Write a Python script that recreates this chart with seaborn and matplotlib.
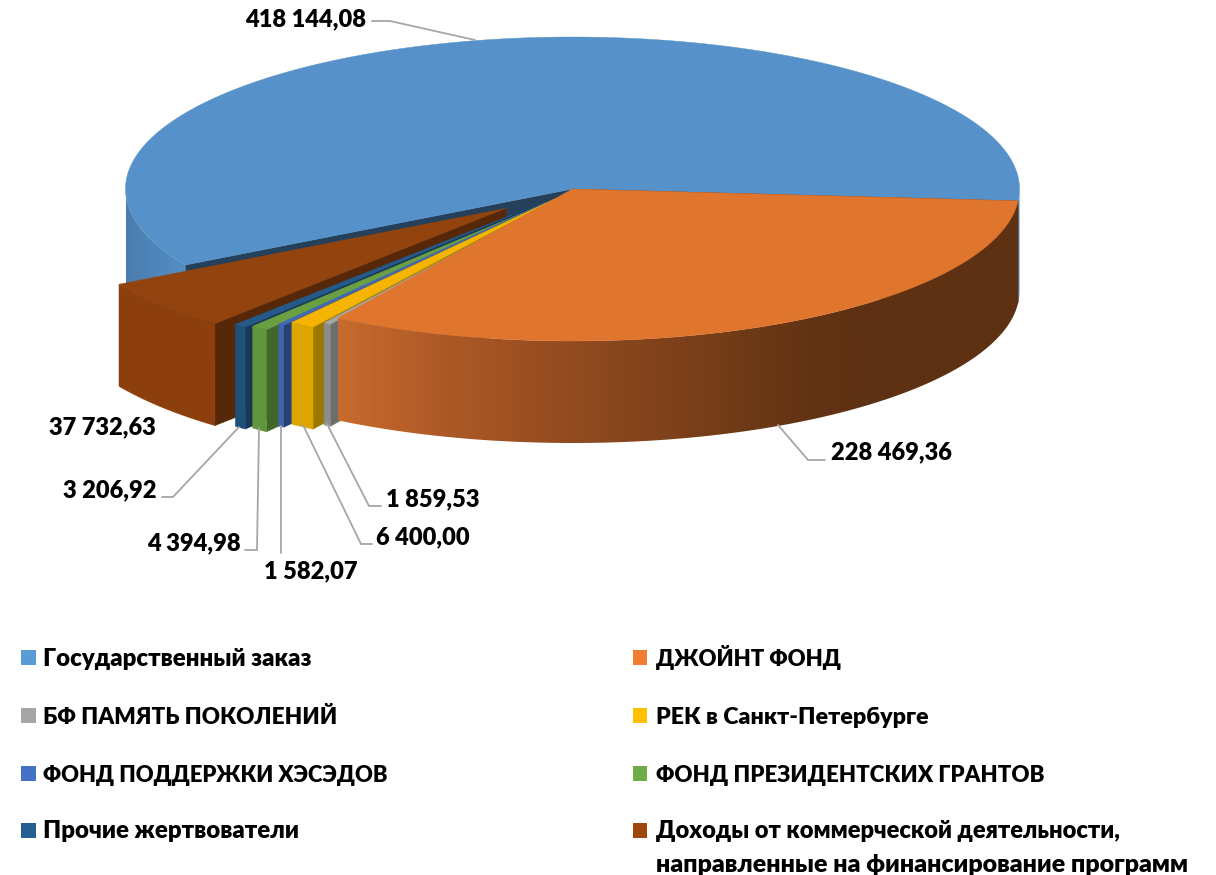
import numpy as np
import matplotlib
matplotlib.use("Agg")
import matplotlib.pyplot as plt
from matplotlib.patches import Polygon
import seaborn as sns

# data
categories = ["Государственный заказ", "ДЖОЙНТ ФОНД", "БФ ПАМЯТЬ ПОКОЛЕНИЙ", "РЕК в Санкт-Петербурге",
              "ФОНД ПОДДЕРЖКИ ХЭСЭДОВ", "ФОНД ПРЕЗИДЕНТСКИХ ГРАНТОВ", "Прочие жертвователи",
              "Доходы от коммерческой деятельности,\nнаправленные на финансирование программ"]
values = [418144.08, 228469.36, 1859.53, 6400.00, 1582.07, 4394.98, 3206.92, 37732.63]

# colours
legend_colors = ["#5b9bd5", "#ed7d31", "#a5a5a5", "#ffc000", "#4472c4", "#70ad47", "#255e91", "#9e480e"]
top_colors = ["#5692c9", "#e0752e", "#a5a5a5", "#f5b400", "#4169b4", "#6aa042", "#235a8a", "#93430d"]
cut_colors = ["#24405a", "#5e3113", "#6e6e6e", "#9d7800", "#284173", "#43672a", "#163755", "#57270a"]
wall_colors = [["#4b7daf", "#5490c6"], ["#c86b2e", "#ac5826", "#8c481e", "#643414", "#5e3113"],
               ["#8c8c8c"], ["#dca500"], ["#3e64aa"], ["#61963c"], ["#1f507a"], ["#8c3e0c"]]
wall_stops = [[125, 190], [337, 450, 600, 800, 860], [0], [0], [0], [0], [0], [0]]

# pie geometry in pixels
cx, cy, rx, ry = 572.5, 189, 447, 152
depth = 102
first_angle = 150.0
explode_x = [0, 0, -7.3, -18.3, -26.4, -38.5, -46, -66.4]
explode_y = [0, 0, 6, 10.2, 13.2, 19, 20, 19.3]
paint_order = [0, 7, 6, 5, 4, 3, 2, 1]

# value labels: left edge, baseline
label_x = [245, 831, 386, 376, 264, 147, 63, 49]
label_y = [26, 459.5, 506.5, 544.5, 578.5, 550.5, 497.5, 434]
leaders = [[(372, 21), (390, 21), (475, 40)],
           [(778, 425), (808, 460), (825, 460)],
           [(327, 424), (369, 506), (381, 506)],
           [(303, 425), (361, 544), (372, 544)],
           [(281, 426), (281, 553)],
           [(259, 428), (257, 550), (245, 550)],
           [(239, 427), (173, 497), (162, 497)]]

# legend layout
legend_x = [28.5, 640, 28.5, 640, 28.5, 640, 28.5, 640]
legend_y = [657.5, 657.5, 715.5, 715.5, 773.5, 773.5, 830.5, 830.5]
legend_text_x = [43, 656, 43, 656, 43, 656, 43, 656]
legend_base = [665.5, 665.5, 723.5, 723.5, 781.5, 781.5, 838.5, 838.5]
# caps are narrower in the original face, so sizes go per line
legend_sizes = [[17.3], [15.9], [16.2], [16.75], [15.8], [16.0], [17.3], [17.0, 18.0]]

sns.set_theme(style="white")
plt.rcParams['font.family'] = ['Lato', 'Open Sans', 'DejaVu Sans']
FONT_VALUE = 17.0
WEIGHT = "heavy"

zorder = [1]


def next_z():
    zorder[0] += 1
    return zorder[0]


def rim(t):
    return cx + rx * np.cos(np.radians(t)), cy + ry * np.sin(np.radians(t))


def draw_wall(ax, i, ts, dx, dy):
    xs, ys = rim(ts)
    xs = xs + dx
    ys = ys + dy
    px = np.r_[xs, xs[::-1]]
    py = np.r_[ys, ys[::-1] + depth]
    if len(wall_colors[i]) == 1:
        ax.fill(px, py, color=wall_colors[i][0], lw=0.3, zorder=next_z())
        return
    # gradient walls: image clipped to the wall outline
    rgb = np.array([matplotlib.colors.to_rgb(c) for c in wall_colors[i]])
    gx = np.linspace(px.min(), px.max(), 400)
    grad = np.stack([np.interp(gx, wall_stops[i], rgb[:, k]) for k in range(3)], axis=1)[np.newaxis, :, :]
    z = next_z()
    im = ax.imshow(grad, extent=(px.min(), px.max(), py.max(), py.min()), aspect="auto",
                   interpolation="bilinear", zorder=z)
    poly = Polygon(np.c_[px, py], closed=True, transform=ax.transData)
    im.set_clip_path(poly)


def draw_slice(ax, i, a0, a1):
    dx, dy = explode_x[i], explode_y[i]
    # cut face on the clockwise start of the slice
    x0, y0 = rim(a0)
    ax.fill([cx + dx, x0 + dx, x0 + dx, cx + dx],
            [cy + dy, y0 + dy, y0 + dy + depth, cy + dy + depth],
            color=cut_colors[i], lw=0.3, zorder=next_z())
    # outer wall, only the part facing the viewer
    ts = np.linspace(a0, a1, max(3, int((a1 - a0) * 4)))
    front = np.sin(np.radians(ts)) >= 0
    run = []
    for t, f in zip(ts, front):
        if f:
            run.append(t)
        elif len(run) > 1:
            draw_wall(ax, i, np.array(run), dx, dy)
            run = []
        else:
            run = []
    if len(run) > 1:
        draw_wall(ax, i, np.array(run), dx, dy)
    # top
    xs, ys = rim(ts)
    ax.fill(np.r_[cx, xs] + dx, np.r_[cy, ys] + dy, color=top_colors[i], lw=0.3, zorder=next_z())


fig = plt.figure(figsize=(12.16, 8.75), dpi=100)
ax = fig.add_axes([0, 0, 1, 1])

shares = 360 * np.array(values) / sum(values)
edges = first_angle + np.r_[0, np.cumsum(shares)]
for i in paint_order:
    draw_slice(ax, i, edges[i], edges[i + 1])

for pts in leaders:
    ax.plot([p[0] for p in pts], [p[1] for p in pts], color="#a6a6a6", lw=1.3,
            solid_joinstyle="miter", zorder=next_z())

for v, lx, ly in zip(values, label_x, label_y):
    txt = f"{v:,.2f}".replace(",", " ").replace(".", ",")
    ax.text(lx, ly, txt, fontsize=FONT_VALUE, fontweight=WEIGHT, color="black", ha="left", va="baseline",
            zorder=500)

sns.scatterplot(x=legend_x, y=legend_y, hue=categories, palette=sns.color_palette(legend_colors),
                marker="s", s=116, linewidth=0, legend=False, ax=ax)
for name, tx, ty, sizes in zip(categories, legend_text_x, legend_base, legend_sizes):
    lines = name.split("\n")
    for k, line in enumerate(lines):
        ax.text(tx, ty + k * 33, line, fontsize=sizes[k], fontweight=WEIGHT, color="black",
                ha="left", va="baseline", zorder=500)

ax.set_xlim(0, 1216)
ax.set_ylim(875, 0)
ax.axis("off")
fig.savefig("out.png", dpi=100)
